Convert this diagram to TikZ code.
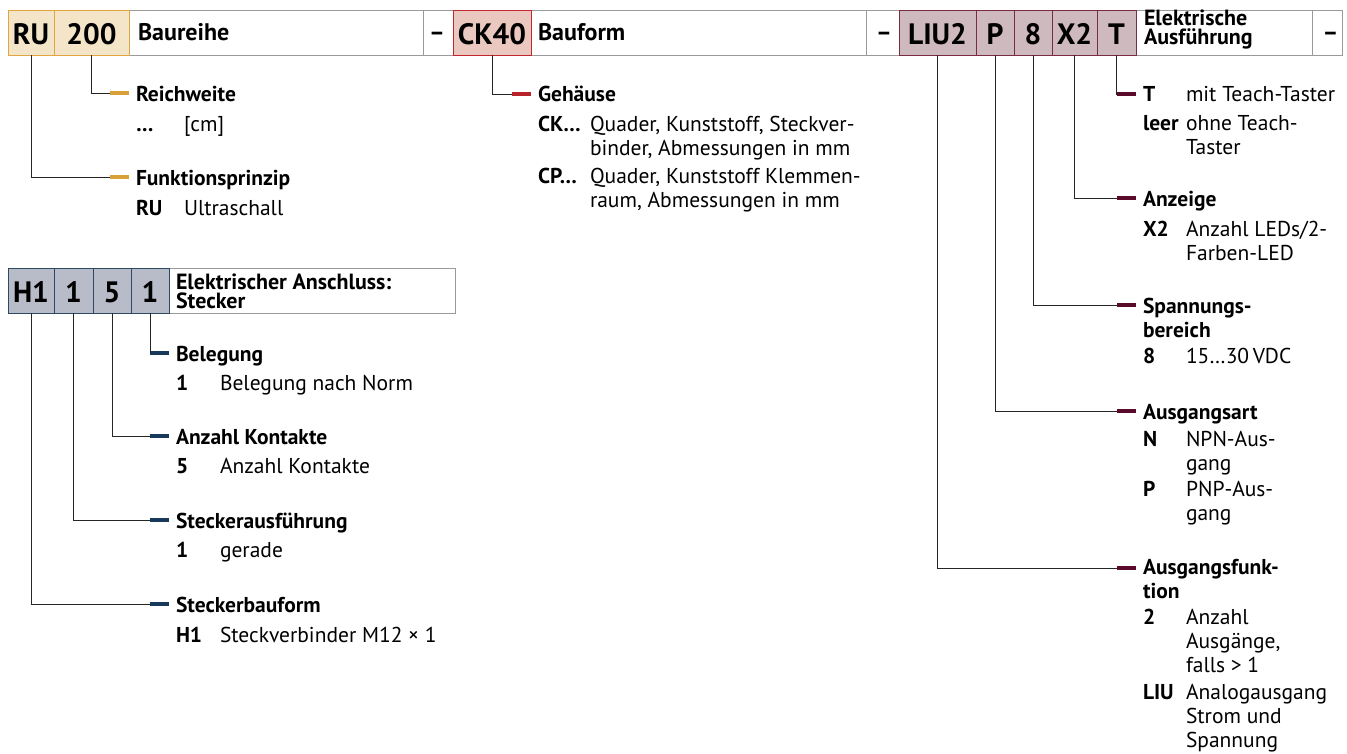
\documentclass[tikz,border=0pt]{standalone}
\usepackage{fontspec}
\setmainfont{PT Sans}
\definecolor{goldfill}{HTML}{F5E5C8}
\definecolor{goldline}{HTML}{E0A540}
\definecolor{golddash}{HTML}{D9A038}
\definecolor{redfill}{HTML}{EBC8BF}
\definecolor{redline}{HTML}{C4262E}
\definecolor{reddash}{HTML}{B8232B}
\definecolor{marfill}{HTML}{CEB9BE}
\definecolor{marline}{HTML}{7A2B43}
\definecolor{mardash}{HTML}{5A0A2A}
\definecolor{bluefill}{HTML}{B8BCC8}
\definecolor{blueline}{HTML}{2E4A62}
\definecolor{bluedash}{HTML}{17395A}
\definecolor{framegray}{HTML}{9A9A9A}

\begin{document}
\begin{tikzpicture}[x=1pt,y=-1pt]
        \tikzstyle{every node}=[inner sep=0pt, outer sep=0pt]
        \tikzstyle{cell}=[line width=1pt, minimum height=45pt, text height=24pt, text depth=0pt, font=\fontsize{29.5}{29.5}\selectfont\bfseries]
        \tikzstyle{gold}=[fill=goldfill, draw=goldline]
        \tikzstyle{red}=[fill=redfill, draw=redline]
        \tikzstyle{maroon}=[fill=marfill, draw=marline]
        \tikzstyle{blue}=[fill=bluefill, draw=blueline]
        \tikzstyle{frame}=[draw=framegray, line width=1pt]
        \tikzstyle{hdr}=[anchor=base west, font=\fontsize{24}{24}\selectfont\bfseries]
        \tikzstyle{hdrtwo}=[anchor=base west, align=left, font=\fontsize{22}{19}\selectfont\bfseries]
        \tikzstyle{stub}=[minimum width=19pt, minimum height=4pt]
        \tikzstyle{title}=[anchor=base west, align=left, font=\fontsize{21.5}{24}\selectfont\bfseries]
        \tikzstyle{key}=[anchor=base west, font=\fontsize{21.5}{24}\selectfont\bfseries]
        \tikzstyle{desc}=[anchor=base west, align=left, font=\fontsize{21.5}{24}\selectfont]
        \tikzstyle{lead}=[draw=black!85, line width=0.9pt]
        \useasboundingbox (0,0) rectangle (1347,753);

        % header bar (multi-line nodes sit on their last line)
        \draw[frame] (8,10) rectangle (1342,55);
        \draw[frame] (423,10) -- (423,55) (866,10) -- (866,55) (1312,10) -- (1312,55);
        \node[cell, gold, minimum width=46pt] (ru) at (31,32.5) {RU};
        \node[cell, gold, minimum width=75pt] (n200) at (91.5,32.5) {200};
        \node[cell, red, minimum width=78pt] (ck40) at (492,32.5) {CK40};
        \node[cell, maroon, minimum width=77pt] (liu2) at (937.5,32.5) {LIU2};
        \node[cell, maroon, minimum width=38pt] (p) at (995,32.5) {P};
        \node[cell, maroon, minimum width=38pt] (u8) at (1033,32.5) {8};
        \node[cell, maroon, minimum width=45pt] (x2) at (1074.5,32.5) {X2};
        \node[cell, maroon, minimum width=39pt] (t) at (1116.5,32.5) {T};
        \node[hdr] (h-baureihe) at (138,40.5) {Baureihe};
        \node[hdr, anchor=base] (h-sep1) at (437,40.5) {–};
        \node[hdr] (h-bauform) at (538,40.5) {Bauform};
        \node[hdr, anchor=base] (h-sep2) at (884,40.5) {–};
        \node[hdrtwo] (h-elektr) at (1144,44.5) {Elektrische\\Ausführung};
        \node[hdr, anchor=base] (h-sep3) at (1330.5,40.5) {–};

        % Baureihe
        \node[stub, fill=golddash] (s-reich) at (119.5,93) {};
        \node[title] (t-reich) at (136,101.5) {Reichweite};
        \node[key] (k-reich) at (136,131) {…};
        \node[desc] (d-reich) at (184,131) {[cm]};
        \node[stub, fill=golddash] (s-funk) at (119.5,177) {};
        \node[title] (t-funk) at (136,185.5) {Funktionsprinzip};
        \node[key] (k-funk) at (136,215) {RU};
        \node[desc] (d-funk) at (184,215) {Ultraschall};
        \draw[lead] (n200.south) |- (s-reich.west);
        \draw[lead] (ru.south) |- (s-funk.west);

        % Bauform
        \node[stub, fill=reddash] (s-geh) at (521.5,94) {};
        \node[title] (t-geh) at (538,101.5) {Gehäuse};
        \node[key] (k-ck) at (538,131.5) {CK…};
        \node[desc] (d-ck) at (590,155.5) {Quader, Kunststoff, Steckver-\\binder, Abmessungen in mm};
        \node[key] (k-cp) at (538,183.5) {CP…};
        \node[desc] (d-cp) at (590,207.5) {Quader, Kunststoff Klemmen-\\raum, Abmessungen in mm};
        \draw[lead] (ck40.south) |- (s-geh.west);

        % Elektrische Ausfuehrung
        \node[stub, fill=mardash] (s-teach) at (1126.5,94) {};
        \node[key] (k-teach) at (1143,101.5) {T};
        \node[desc] (d-teach) at (1186,101.5) {mit Teach-Taster};
        \node[key] (k-leer) at (1143,130) {leer};
        \node[desc] (d-leer) at (1186,154) {ohne Teach-\\Taster};
        \node[stub, fill=mardash] (s-anz) at (1126.5,198) {};
        \node[title] (t-anz) at (1143,206) {Anzeige};
        \node[key] (k-anz) at (1143,236) {X2};
        \node[desc] (d-anz) at (1186,260) {Anzahl LEDs/2-\\Farben-LED};
        \node[stub, fill=mardash] (s-spg) at (1126.5,305) {};
        \node[title] (t-spg) at (1143,337) {Spannungs-\\bereich};
        \node[key] (k-spg) at (1143,363) {8};
        \node[desc] (d-spg) at (1186,363) {15…30\,VDC};
        \node[stub, fill=mardash] (s-art) at (1126.5,411) {};
        \node[title] (t-art) at (1143,419) {Ausgangsart};
        \node[key] (k-npn) at (1143,446) {N};
        \node[desc] (d-npn) at (1186,470) {NPN-Aus-\\gang};
        \node[key] (k-pnp) at (1143,496) {P};
        \node[desc] (d-pnp) at (1186,520) {PNP-Aus-\\gang};
        \node[stub, fill=mardash] (s-fkt) at (1126.5,568) {};
        \node[title] (t-fkt) at (1143,598.5) {Ausgangsfunk-\\tion};
        \node[key] (k-zwei) at (1143,624) {2};
        \node[desc] (d-zwei) at (1186,672) {Anzahl\\Ausgänge,\\falls > 1};
        \node[key] (k-liu) at (1143,699) {LIU};
        \node[desc] (d-liu) at (1186,747) {Analogausgang\\Strom und\\Spannung};
        \draw[lead] (t.south) |- (s-teach.west);
        \draw[lead] (x2.south) |- (s-anz.west);
        \draw[lead] (u8.south) |- (s-spg.west);
        \draw[lead] (p.south) |- (s-art.west);
        \draw[lead] (liu2.south) |- (s-fkt.west);

        % Elektrischer Anschluss
        \draw[frame] (8,268) rectangle (455,313);
        \node[cell, blue, minimum width=46pt] (h1) at (31,290.5) {H1};
        \node[cell, blue, minimum width=39pt] (a1) at (73.5,290.5) {1};
        \node[cell, blue, minimum width=38pt] (a5) at (112,290.5) {5};
        \node[cell, blue, minimum width=38pt] (b1) at (150,290.5) {1};
        \node[hdrtwo] (h-anschl) at (176,308.5) {Elektrischer Anschluss:\\Stecker};
        \node[stub, fill=bluedash] (s-bel) at (159.5,353) {};
        \node[title] (t-bel) at (176,361) {Belegung};
        \node[key] (k-bel) at (176,390) {1};
        \node[desc] (d-bel) at (220,390) {Belegung nach Norm};
        \node[stub, fill=bluedash] (s-kont) at (159.5,436) {};
        \node[title] (t-kont) at (176,444) {Anzahl Kontakte};
        \node[key] (k-kont) at (176,473) {5};
        \node[desc] (d-kont) at (220,473) {Anzahl Kontakte};
        \node[stub, fill=bluedash] (s-ausf) at (159.5,520) {};
        \node[title] (t-ausf) at (176,528) {Steckerausführung};
        \node[key] (k-ausf) at (176,557) {1};
        \node[desc] (d-ausf) at (220,557) {gerade};
        \node[stub, fill=bluedash] (s-bauf) at (159.5,604) {};
        \node[title] (t-bauf) at (176,612) {Steckerbauform};
        \node[key] (k-bauf) at (176,642) {H1};
        \node[desc] (d-bauf) at (220,642) {Steckverbinder M12 × 1};
        \draw[lead] (b1.south) |- (s-bel.west);
        \draw[lead] (a5.south) |- (s-kont.west);
        \draw[lead] (a1.south) |- (s-ausf.west);
        \draw[lead] (h1.south) |- (s-bauf.west);
\end{tikzpicture}
\end{document}
